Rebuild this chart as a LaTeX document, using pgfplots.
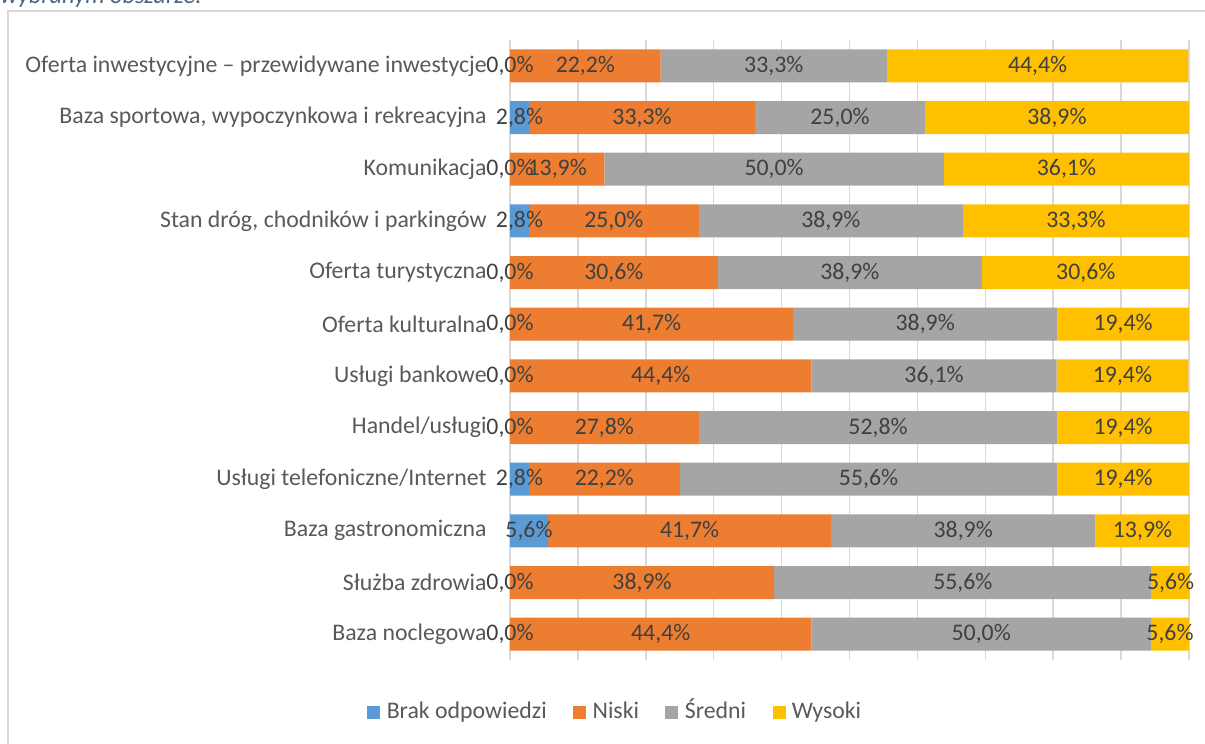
\documentclass[border=0pt]{standalone}
\usepackage{fontspec}
\setmainfont{Carlito}
\usepackage{pgfplots}
\usepackage{pgfplotstable}
\pgfplotsset{compat=1.18}
\definecolor{cBlue}{HTML}{5B9BD5}
\definecolor{cOrange}{HTML}{ED7D31}
\definecolor{cGray}{HTML}{A5A5A5}
\definecolor{cYellow}{HTML}{FFC000}
\definecolor{lbl}{HTML}{404040}
\definecolor{tick}{HTML}{595959}
\definecolor{gridc}{HTML}{D9D9D9}
\definecolor{ttl}{HTML}{4A6282}
\pgfplotstableread{
cat brak niski sredni wysoki
1 0.0 22.2 33.3 44.4
2 2.8 33.3 25.0 38.9
3 0.0 13.9 50.0 36.1
4 2.8 25.0 38.9 33.3
5 0.0 30.6 38.9 30.6
6 0.0 41.7 38.9 19.4
7 0.0 44.4 36.1 19.4
8 0.0 27.8 52.8 19.4
9 2.8 22.2 55.6 19.4
10 5.6 41.7 38.9 13.9
11 0.0 38.9 55.6 5.6
12 0.0 44.4 50.0 5.6
}\data
\pgfplotsset{
  lblstyle/.style={
    nodes near coords={\pgfmathprintnumber[fixed,fixed zerofill,precision=1,use comma,assume math mode=true]{\rawv}\%},
    every node near coord/.append style={anchor=center, text=lbl, inner sep=0pt,
       font=\fontsize{11.9}{13}\selectfont}},
  geom/.style={
    at={(255pt,42pt)}, anchor=south west,
    scale only axis, width=339.5pt, height=310pt,
    xmin=0, xmax=100, ymin=0.5, ymax=12.5,
    y dir=reverse, clip=false},
}
\newcommand\seg[2]{%
\addplot[fill=#2, draw=none,
  legend image code/.code={\fill[#2] (0pt,-3.25pt) rectangle (6.5pt,3.25pt);},
  visualization depends on={\thisrow{#1} \as \rawv},
  lblstyle, nodes near coords align={center}]
  table[x=#1, y=cat]{\data};}
\begin{document}
\begin{tikzpicture}
\useasboundingbox (0,0) rectangle (602.5pt,372pt);
\node[anchor=base west, inner sep=0pt, text=ttl, font=\fontsize{12.2}{14}\selectfont\itshape] at (0pt,370pt) {wybranym obszarze:};
\draw[gridc, line width=1pt] (4pt,-2pt) -- (4pt,366.5pt) -- (610pt,366.5pt);
\begin{axis}[
  geom,
  xbar stacked, bar width=16.5pt,
  axis line style={draw=none},
  major tick length=0pt,
  xtick={0,10,...,100}, xticklabels={},
  xmajorgrids, grid style={draw=gridc, line width=0.75pt},
  ytick={1,...,12},
  yticklabels={Oferta inwestycyjne -- przewidywane inwestycje, {Baza sportowa, wypoczynkowa i rekreacyjna}, Komunikacja, {Stan dróg, chodników i parkingów}, Oferta turystyczna, Oferta kulturalna, Usługi bankowe, Handel/usługi, Usługi telefoniczne/Internet, Baza gastronomiczna, Służba zdrowia, Baza noclegowa},
  yticklabel style={anchor=east, inner sep=0pt, xshift=-11.5pt, text=tick, font=\fontsize{11.9}{13}\selectfont},
  legend columns=4,
  legend style={draw=none, fill=none, at={(0.1583,-0.0839)}, anchor=center,
    font=\fontsize{11.9}{13}\selectfont, text=tick,
    /tikz/every even column/.append style={column sep=10pt},
    nodes={inner ysep=1.75pt, inner xsep=3.2pt, text height=1.6ex, text depth=0.3ex}},
]
\addplot[fill=cBlue, draw=none,
  legend image code/.code={\fill[cBlue] (0pt,-3.25pt) rectangle (6.5pt,3.25pt);}]
  table[x=brak, y=cat]{\data};
\seg{niski}{cOrange}
\seg{sredni}{cGray}
\seg{wysoki}{cYellow}
\legend{Brak odpowiedzi, Niski, Średni, Wysoki}
\end{axis}
\begin{axis}[geom, hide axis]
\addplot[draw=none, mark=none,
  visualization depends on={\thisrow{brak} \as \rawv},
  lblstyle]
  table[x expr={\thisrow{brak}/2}, y=cat]{\data};
\end{axis}
\end{tikzpicture}
\end{document}
